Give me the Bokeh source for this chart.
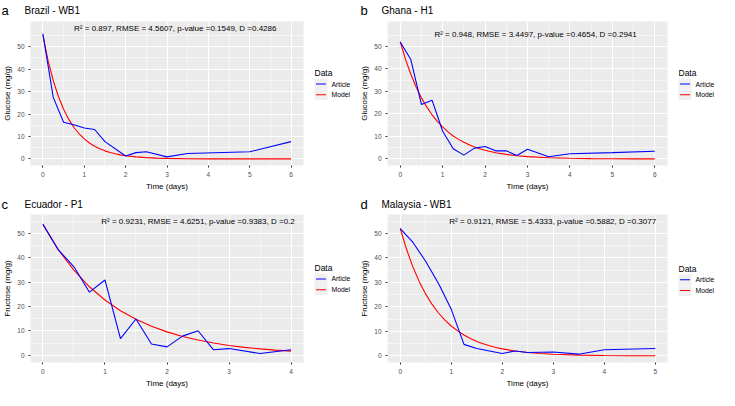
from bokeh.plotting import figure
from bokeh.models import Label, FixedTicker, Range1d
from bokeh.core.properties import value
from bokeh.layouts import column, row
from bokeh.embed import file_html
from bokeh.resources import INLINE

# ---------------- data ----------------
brazil_t = [0, 0.25, 0.5, 0.75, 1, 1.25, 1.5, 2, 2.25, 2.5, 3, 3.5, 5, 6]
brazil_article = [55.7, 27.4, 16.3, 15.2, 13.8, 13.1, 7.7, 1.3, 2.8, 3.2, 0.9, 2.4, 3.2, 7.7]
brazil_model_t = [0, 0.125, 0.25, 0.375, 0.5, 0.625, 0.75, 0.875, 1, 1.125, 1.25, 1.375,
                  1.5, 1.625, 1.75, 1.875, 2, 2.25, 2.5, 2.75, 3, 3.5, 4, 4.5, 5, 5.5, 6]
brazil_model = [55.0, 43.8, 34.9, 27.8, 22.1, 17.6, 14.0, 11.2, 8.9, 7.1, 5.65, 4.5,
                3.59, 2.86, 2.28, 1.81, 1.44, 0.92, 0.58, 0.37, 0.23, 0.09, 0.04, 0.02, 0.01, 0.0, 0.0]

ghana_t = [0, 0.25, 0.5, 0.75, 1, 1.25, 1.5, 1.75, 2, 2.25, 2.5, 2.75, 3, 3.5, 4, 5, 6]
ghana_article = [51.9, 44.1, 24.2, 26.1, 12.3, 4.5, 1.7, 4.8, 5.5, 3.6, 3.6, 1.5, 4.3, 1.0, 2.3, 2.8, 3.4]
ghana_model_t = [0, 0.125, 0.25, 0.375, 0.5, 0.625, 0.75, 0.875, 1, 1.125, 1.25, 1.375,
                 1.5, 1.625, 1.75, 1.875, 2, 2.25, 2.5, 2.75, 3, 3.5, 4, 4.5, 5, 5.5, 6]
ghana_model = [52.0, 44.2, 37.6, 31.9, 27.1, 23.1, 19.6, 16.7, 14.2, 12.0, 10.2, 8.7,
               7.4, 6.29, 5.35, 4.54, 3.86, 2.79, 2.02, 1.46, 1.05, 0.55, 0.29, 0.15, 0.08, 0.04, 0.02]

ecuador_t = [0, 0.25, 0.5, 0.75, 1, 1.25, 1.5, 1.75, 2, 2.25, 2.5, 2.75, 3, 3.5, 4]
ecuador_article = [53.8, 43.2, 36.3, 25.9, 30.9, 6.9, 14.9, 4.7, 3.5, 7.9, 10.1, 2.3, 2.8, 0.8, 2.3]
ecuador_model_t = [0, 0.25, 0.5, 0.75, 1, 1.25, 1.5, 1.75, 2, 2.25, 2.5, 2.75, 3, 3.25, 3.5, 3.75, 4]
ecuador_model = [53.5, 43.2, 34.9, 28.1, 22.7, 18.3, 14.8, 11.9, 9.64, 7.78, 6.28, 5.07,
                 4.09, 3.30, 2.66, 2.15, 1.74]

malaysia_t = [0, 0.25, 0.5, 0.75, 1, 1.25, 1.5, 2, 2.25, 2.5, 3, 3.5, 4, 5]
malaysia_article = [51.9, 46.3, 38.5, 29.5, 19.0, 4.7, 3.0, 1.0, 2.0, 1.4, 1.6, 0.7, 2.5, 3.0]
malaysia_model_t = [0, 0.125, 0.25, 0.375, 0.5, 0.625, 0.75, 0.875, 1, 1.125, 1.25, 1.375,
                    1.5, 1.625, 1.75, 1.875, 2, 2.25, 2.5, 2.75, 3, 3.5, 4, 4.5, 5]
malaysia_model = [52.0, 43.4, 36.2, 30.2, 25.2, 21.0, 17.5, 14.6, 12.2, 10.2, 8.49, 7.08,
                  5.91, 4.93, 4.11, 3.43, 2.86, 1.99, 1.39, 0.97, 0.67, 0.33, 0.16, 0.08, 0.04]

y_ticks = [0, 10, 20, 30, 40, 50]
y_minor = [5, 15, 25, 35, 45, 55]

legend_title = "Data"
legend_labels = ["Article", "Model"]
legend_colors = ["blue", "red"]

row1_letters = ["a", "b"]
row1_titles = ["Brazil - WB1", "Ghana - H1"]
row2_letters = ["c", "d"]
row2_titles = ["Ecuador - P1", "Malaysia - WB1"]

stats_a = "R\u00b2 = 0.897, RMSE = 4.5607, p-value =0.1549, D =0.4286"
stats_b = "R\u00b2 = 0.948, RMSE = 3.4497, p-value =0.4654, D =0.2941"
stats_c = "R\u00b2 = 0.9231, RMSE = 4.6251, p-value =0.9383, D =0.2"
stats_d = "R\u00b2 = 0.9121, RMSE = 5.4333, p-value =0.5882, D =0.3077"

FONT = "Liberation Sans"
TOTAL_W = 719
LEFT_W = 357


def panel(ylabel, t, art, mt, model, xmax, xr, yr, stats, sx, sy, w, h):
    p = figure(width=w, height=h, x_range=Range1d(*xr), y_range=Range1d(*yr),
               output_backend="svg", toolbar_location=None, title=None,
               min_border_left=0, min_border_right=2, min_border_top=3, min_border_bottom=2)
    p.background_fill_color = "#EBEBEB"
    p.border_fill_color = "white"
    p.outline_line_color = None

    xt = list(range(0, xmax + 1))
    xm = [i + 0.5 for i in range(0, xmax)]
    p.xaxis.ticker = FixedTicker(ticks=xt, minor_ticks=xm)
    p.yaxis.ticker = FixedTicker(ticks=y_ticks, minor_ticks=y_minor)
    for ax in (p.xaxis[0], p.yaxis[0]):
        ax.axis_line_color = None
        ax.major_tick_line_color = "#333333"
        ax.major_tick_out = 2
        ax.major_tick_in = 0
        ax.minor_tick_line_color = None
        ax.major_label_text_color = "#4D4D4D"
        ax.major_label_text_font = FONT
        ax.major_label_text_font_size = "6.5px"
        ax.major_label_standoff = 2
        ax.axis_label_text_font = FONT
        ax.axis_label_text_font_size = "8px"
        ax.axis_label_text_font_style = "normal"
        ax.axis_label_text_color = "black"
        ax.axis_label_standoff = 2
    p.xaxis.axis_label = "Time (days)"
    p.yaxis.axis_label = ylabel

    for g in (p.xgrid[0], p.ygrid[0]):
        g.grid_line_color = "white"
        g.grid_line_width = 1.1
        g.minor_grid_line_color = "white"
        g.minor_grid_line_width = 0.5

    p.line(mt, model, line_color="red", line_width=1.1)
    p.line(t, art, line_color="blue", line_width=1.1)

    p.add_layout(Label(x=sx, y=sy, text=stats, text_align="center", text_baseline="middle",
                       text_font=FONT, text_font_size="8px", text_color="black"))
    return p


def blank(w, h):
    f = figure(width=w, height=h, x_range=Range1d(0, w), y_range=Range1d(h, 0),
               output_backend="svg", toolbar_location=None, min_border=0, title=None,
               x_axis_location=None, y_axis_location=None)
    f.grid.visible = False
    f.outline_line_color = None
    f.background_fill_color = "white"
    f.border_fill_color = "white"
    return f


def legend_panel(w, h, cy):
    lf = blank(w, h)
    kx = 9
    ys = [cy, cy + 13]
    lf.rect(x=[kx + 6.5] * 2, y=ys, width=13, height=13, fill_color="#F0F0F0", line_color=None)
    lf.segment(x0=[kx + 1.5] * 2, y0=ys, x1=[kx + 11.5] * 2, y1=ys,
               line_color=legend_colors, line_width=1.1)
    lf.text(x=[kx + 17] * 2, y=ys, text=legend_labels, text_font=value(FONT),
            text_font_size="6.8px", text_baseline="middle", text_color="black")
    lf.text(x=[kx], y=[cy - 13], text=[legend_title], text_font=value(FONT),
            text_font_size="8.5px", text_baseline="middle", text_color="black")
    return lf


def header(h, cy, letters, titles):
    hf = blank(TOTAL_W, h)
    hf.text(x=[1, LEFT_W + 3], y=[cy, cy], text=letters, text_font=value(FONT),
            text_font_size="13px", text_baseline="middle", text_color="black")
    hf.text(x=[24, LEFT_W + 24], y=[cy, cy], text=titles, text_font=value(FONT),
            text_font_size="10px", text_baseline="middle", text_color="black")
    return hf


pa = panel("Glucose (mg/g)", brazil_t, brazil_article, brazil_model_t,
           brazil_model, 6, (-0.3, 6.3), (-2.93, 61.2), stats_a, 3.2, 58.2, 305, 175)
pb = panel("Glucose (mg/g)", ghana_t, ghana_article, ghana_model_t,
           ghana_model, 6, (-0.3, 6.3), (-2.9, 61.0), stats_b, 3.19, 55.1, 312, 175)
pc = panel("Fructose (mg/g)", ecuador_t, ecuador_article, ecuador_model_t,
           ecuador_model, 4, (-0.2, 4.2), (-2.9, 57.7), stats_c, 2.5, 54.7, 305, 179)
pd = panel("Fructose (mg/g)", malaysia_t, malaysia_article, malaysia_model_t,
           malaysia_model, 5, (-0.25, 5.24), (-2.7, 57.7), stats_d, 2.99, 54.8, 312, 179)

la = legend_panel(52, 175, 76)
lb = legend_panel(50, 175, 76)
lc = legend_panel(52, 179, 78)
ld = legend_panel(50, 179, 79)

h1 = header(18, 10, row1_letters, row1_titles)
h2 = header(18, 10.5, row2_letters, row2_titles)

layout = column(h1, row(pa, la, pb, lb), h2, row(pc, lc, pd, ld))
open("out.html", "w").write(file_html(layout, INLINE))
